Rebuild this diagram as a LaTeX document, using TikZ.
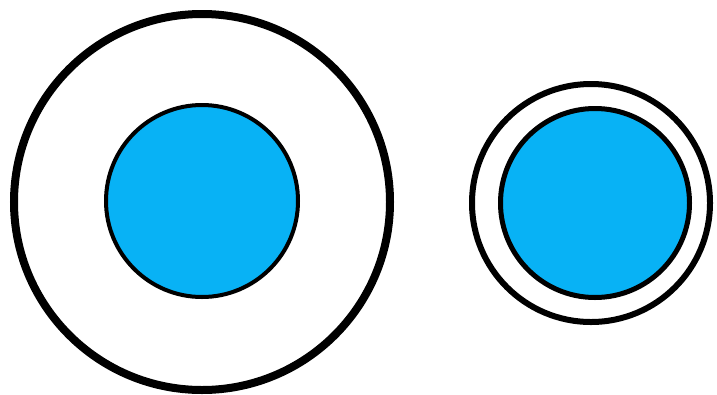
\documentclass[tikz,border=0pt]{standalone}
\usepackage{tikz}
\usetikzlibrary{positioning}
\usepackage{xcolor}
\definecolor{coreblue}{RGB}{8,178,245}

\begin{document}
\begin{tikzpicture}[x=1pt, y=-1pt,
  ring/.style={circle, draw=black, fill=white, inner sep=0pt},
  core/.style={circle, draw=black, fill=coreblue, inner sep=0pt}]
  \useasboundingbox (0,0) rectangle (717,394);
  % Left pair: thick ring, small core
  \node[ring, line width=8pt, minimum size=376pt] (bigring) at (202,202) {};
  \node[core, line width=4pt, minimum size=192pt] (bigcore) at (202,201) {};
  % Right pair: thin ring close around the core
  \node[ring, line width=6pt, minimum size=238pt] (smallring) at (591,203) {};
  \node[core, line width=5pt, minimum size=189pt] (smallcore) at (595,203) {};
\end{tikzpicture}
\end{document}
